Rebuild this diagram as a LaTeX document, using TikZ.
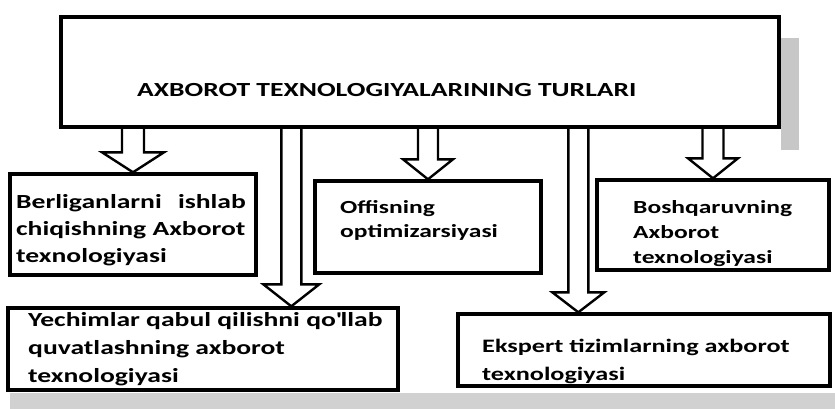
\documentclass[tikz,border=0pt]{standalone}
\usepackage{fontspec}
\setmainfont{Carlito}[FakeStretch=1.38]
\usetikzlibrary{calc}
\pgfdeclarelayer{background}
\pgfsetlayers{background,main}
\newcommand\blockarrow[5]{% #1 start, #2 tip, #3 half shaft, #4 half head, #5 head length
  \draw[barrow] let \p1=#1, \p2=#2 in
    (\x2-#3,\y1) -- (\x2-#3,\y2+#5) -- (\x2-#4,\y2+#5) -- (\x2,\y2)
    -- (\x2+#4,\y2+#5) -- (\x2+#3,\y2+#5) -- (\x2+#3,\y1);}
\begin{document}
\begin{tikzpicture}[x=1pt,y=-1pt,
  frame/.style={draw, line width=3.4pt, fill=white, inner sep=0pt},
  lbl/.style={anchor=base west, inner sep=0pt, align=left},
  barrow/.style={draw, line width=2.4pt, fill=white, line join=miter},
  shade/.style={fill=black!22}]
\useasboundingbox (0,0) rectangle (835,409);

% scan shadows
\begin{pgfonlayer}{background}
\fill[shade] (781,38) rectangle (799,150);
\fill[shade, fill=black!18] (10,393) rectangle (835,409);
\end{pgfonlayer}

% boxes
\node[frame, minimum width=718, minimum height=110] (top) at (420,72) {};
\node[frame, minimum width=246, minimum height=101] (A) at (133,224.5) {};
\node[frame, minimum width=226, minimum height=92] (B) at (428,227) {};
\node[frame, minimum width=232, minimum height=90] (C) at (713,225) {};
\node[frame, minimum width=390, minimum height=82] (D) at (203,349) {};
\node[frame, minimum width=372, minimum height=72] (E) at (644,350) {};

\coordinate (dtip) at ($(D.north west)+(285,0)$);
\coordinate (etip) at ($(E.north west)+(122,0)$);

% arrows
\begin{pgfonlayer}{background}
\blockarrow{(top.south -| A.north)}{(A.north)}{11pt}{31pt}{20pt}
\blockarrow{(top.south -| B.north)}{(B.north)}{10pt}{25pt}{20pt}
\blockarrow{(top.south -| C.north)}{(C.north)}{10.5pt}{25pt}{20pt}
\blockarrow{(top.south -| dtip)}{(dtip)}{10pt}{28pt}{22pt}
\blockarrow{(top.south -| etip)}{(etip)}{10pt}{26pt}{20pt}
\end{pgfonlayer}

% texts (anchor = baseline of the last line)
\node[anchor=base west, inner sep=0pt, font=\fontsize{20}{24}\selectfont\bfseries] (title) at (137,97) {AXBOROT TEXNOLOGIYALARINING TURLARI};
\node[lbl, font=\fontsize{20}{27}\selectfont\bfseries] (tA) at (16,262) {Berliganlarni\hspace{10pt} ishlab\\chiqishning Axborot\\texnologiyasi};
\node[lbl, font=\fontsize{18.5}{24}\selectfont\bfseries] (tB) at (340,237) {Offisning\\optimizarsiyasi};
\node[lbl, font=\fontsize{18.5}{25}\selectfont\bfseries] (tC) at (633,263) {Boshqaruvning\\Axborot\\texnologiyasi};
\node[lbl, font=\fontsize{20}{28}\selectfont\bfseries] (tD) at (28,382) {Yechimlar qabul qilishni qo\textquotesingle llab\\quvatlashning axborot\\texnologiyasi};
\node[lbl, font=\fontsize{19}{28}\selectfont\bfseries] (tE) at (482,380) {Ekspert tizimlarning axborot\\texnologiyasi};
\end{tikzpicture}
\end{document}
